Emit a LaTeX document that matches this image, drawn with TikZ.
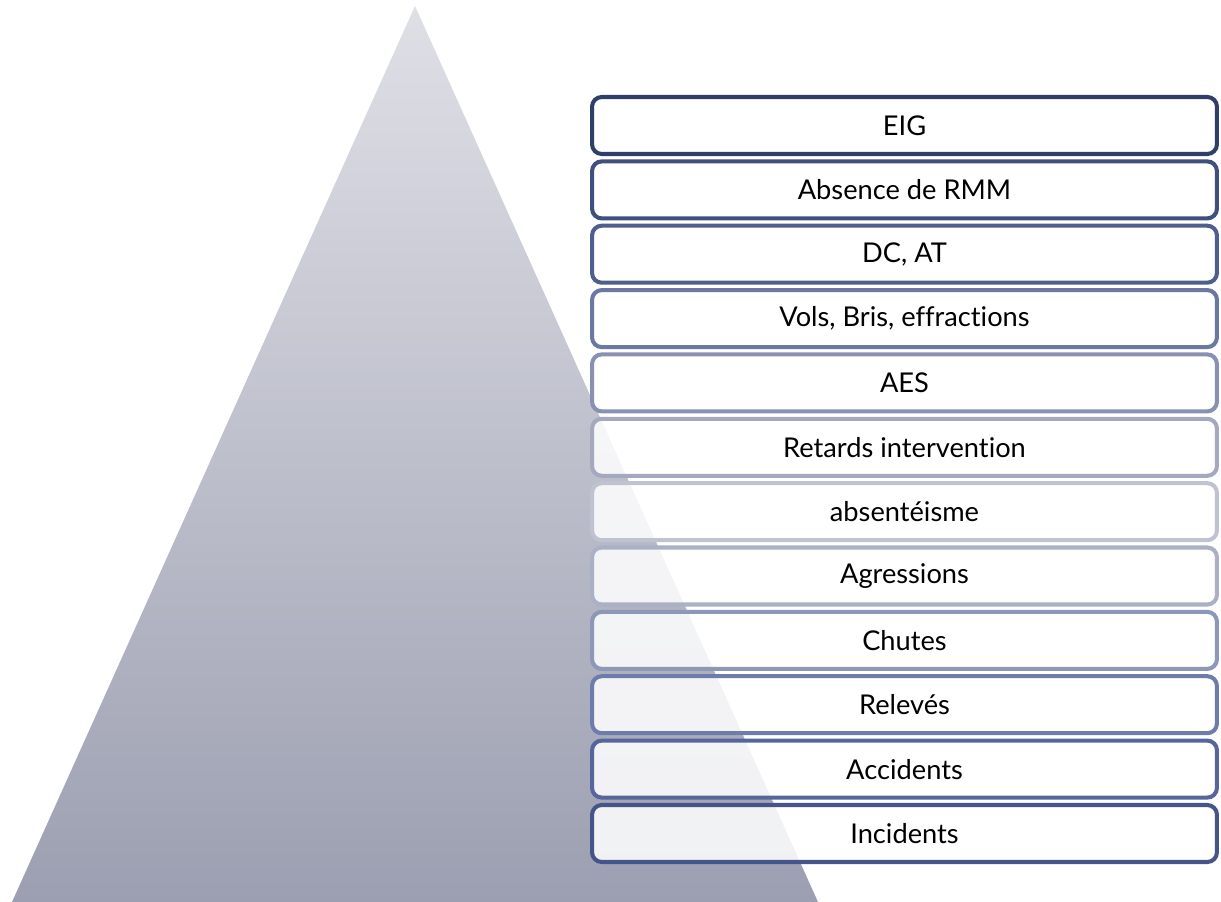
\documentclass[tikz,border=0pt]{standalone}
\usepackage{fontspec}
\setmainfont{Lato}[Ligatures=NoCommon]
\usepackage{tikz}
\usepackage{xcolor}
\definecolor{pyrtop}{HTML}{DFE0E6}
\definecolor{pyrbot}{HTML}{9C9FB1}
\definecolor{lvla}{HTML}{2F3F68}
\definecolor{lvlb}{HTML}{40507E}
\definecolor{lvlc}{HTML}{4F5E8D}
\definecolor{lvld}{HTML}{6B79A2}
\definecolor{lvle}{HTML}{8891B1}
\definecolor{lvlf}{HTML}{A4A9C0}
\definecolor{lvlg}{HTML}{BFC2D1}
\definecolor{lvlh}{HTML}{AAB0C6}
\definecolor{lvli}{HTML}{8D97B8}
\definecolor{lvlj}{HTML}{6E7CAC}
\definecolor{lvlk}{HTML}{56669C}
\definecolor{lvll}{HTML}{45558A}

\begin{document}
\begin{tikzpicture}[
    x=0.02cm, y=-0.02cm,
    level/.style={draw, line width=2.3pt, rounded corners=5.5pt, fill=white, fill opacity=0.86, text opacity=1,
        minimum width=12.5cm, minimum height=1.14cm, inner sep=0pt, align=center,
        font=\fontsize{15.5}{18}\selectfont}
]
\useasboundingbox (0,0) rectangle (1221,902);
\coordinate (apex) at (415,6);
\coordinate (baseleft) at (12,902);
\coordinate (baseright) at (818,902);
\shade[top color=pyrtop, bottom color=pyrbot] (apex) -- (baseleft) -- (baseright) -- cycle;
\node[level, draw=lvla] (eig) at (904.5,125.5) {EIG};
\node[level, draw=lvlb] (rmm) at (904.5,189.9) {Absence de RMM};
\node[level, draw=lvlc] (dcat) at (904.5,254.2) {DC, AT};
\node[level, draw=lvld] (vols) at (904.5,318.6) {Vols, Bris, effractions};
\node[level, draw=lvle] (aes) at (904.5,382.9) {AES};
\node[level, draw=lvlf] (retards) at (904.5,447.3) {Retards intervention};
\node[level, draw=lvlg] (absent) at (904.5,511.7) {absentéisme};
\node[level, draw=lvlh] (agress) at (904.5,576.0) {Agressions};
\node[level, draw=lvli] (chutes) at (904.5,640.4) {Chutes};
\node[level, draw=lvlj] (releves) at (904.5,704.7) {Relevés};
\node[level, draw=lvlk] (accid) at (904.5,769.1) {Accidents};
\node[level, draw=lvll] (incid) at (904.5,833.5) {Incidents};
\end{tikzpicture}
\end{document}
